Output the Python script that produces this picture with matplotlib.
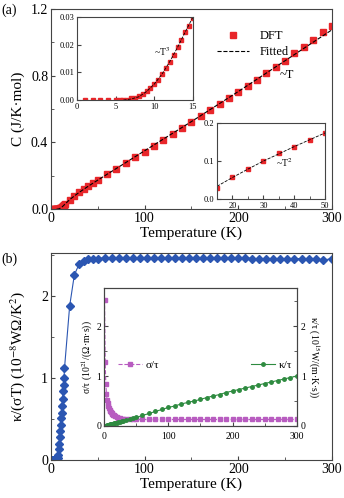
import numpy as np
import matplotlib
matplotlib.use("Agg")
import matplotlib.pyplot as plt
from matplotlib.ticker import MultipleLocator

plt.rcParams['font.family'] = ['Liberation Serif', 'DejaVu Serif']
plt.rcParams['mathtext.fontset'] = 'stix'
plt.rcParams['axes.linewidth'] = 0.8
plt.rcParams['axes.edgecolor'] = '#444444'

# ---- panel (a): heat capacity ----
T_dft = [1, 2, 3, 4, 5, 5.5, 6, 6.5, 7, 7.5, 8, 8.5, 9, 9.5, 10, 10.5, 11, 11.5, 12,
         12.5, 13, 13.5, 14, 14.5, 15, 20, 25, 30, 35, 40, 45, 50,
         60, 70, 80, 90, 100, 110, 120, 130, 140, 150, 160, 170, 180, 190, 200,
         210, 220, 230, 240, 250, 260, 270, 280, 290, 300]
C_dft = [0, 0, 0, 0, 0, 0, 0.0001, 0.0002, 0.0006, 0.0009, 0.0014, 0.0021, 0.0033,
         0.0045, 0.0058, 0.0073, 0.0093, 0.0117, 0.0139, 0.0161, 0.019, 0.0218,
         0.0246, 0.0269, 0.0295, 0.057, 0.080, 0.100, 0.120, 0.136, 0.155, 0.174,
         0.208, 0.242, 0.276, 0.310, 0.345, 0.380, 0.415, 0.450, 0.487, 0.522,
         0.558, 0.594, 0.628, 0.664, 0.700, 0.740, 0.774, 0.814, 0.854, 0.890,
         0.934, 0.970, 1.014, 1.060, 1.100]

fit_T_low = [6, 7, 8, 9, 10, 11, 12, 13, 14, 15]
fit_C_low = [0, 0.0004, 0.0012, 0.0031, 0.0058, 0.0094, 0.0139, 0.0190, 0.0246, 0.0300]
fit_T_mid = [15, 20, 25, 30, 35, 40, 45, 50]
fit_C_mid = [0.034, 0.057, 0.079, 0.100, 0.119, 0.138, 0.156, 0.174]
fit_T_high = [50, 100, 150, 200, 250, 300]
fit_C_high = [0.174, 0.350, 0.525, 0.705, 0.890, 1.075]

# ---- panel (b): Lorenz number and inset ----
T_L = [1, 2, 3, 4, 5, 5.5, 6, 6.5, 7, 7.5, 8, 8.5, 9, 9.5, 10, 10.5, 11, 11.5, 12,
       12.5, 13, 13.5, 14, 14.5, 20, 25, 30, 35, 40, 45, 50,
       57.5, 65, 72.5, 80, 87.5, 95, 102.5, 110, 117.5, 125, 132.5, 140, 147.5,
       155, 162.5, 170, 177.5, 185, 192.5, 200, 207.5, 215, 222.5, 230, 237.5,
       245, 252.5, 260, 267.5, 275, 282.5, 290, 300]
L_val = [0, 0, 0, 0, 0, 0, 0, 0, 0.01, 0.03, 0.06, 0.13, 0.20, 0.28, 0.35, 0.43,
         0.51, 0.58, 0.66, 0.75, 0.84, 0.92, 1.00, 1.12, 1.88, 2.26, 2.39, 2.43,
         2.45, 2.46, 2.46, 2.47, 2.47, 2.47, 2.47, 2.47, 2.47, 2.47, 2.47, 2.47,
         2.47, 2.47, 2.47, 2.47, 2.47, 2.47, 2.47, 2.47, 2.47, 2.47, 2.47, 2.47,
         2.46, 2.46, 2.46, 2.46, 2.46, 2.46, 2.46, 2.46, 2.46, 2.46, 2.44, 2.46]

T_in = [1, 2, 3, 4, 5, 6, 7, 8, 9, 10, 11, 12, 13, 14, 15, 17.5, 20, 22.5, 25,
        27.5, 30, 35, 40, 45, 50, 60, 70, 80, 90, 100, 110, 120, 130, 140, 150,
        160, 170, 180, 190, 200, 210, 220, 230, 240, 250, 260, 270, 280, 290, 300]
sigma_tau = [2.53, 1.29, 0.84, 0.65, 0.51, 0.45, 0.40, 0.36, 0.32, 0.29, 0.27,
             0.25, 0.235, 0.22, 0.21, 0.19, 0.175, 0.16, 0.15, 0.145, 0.14, 0.135,
             0.13, 0.13, 0.13, 0.13, 0.13, 0.13, 0.13, 0.13, 0.13, 0.13, 0.13, 0.13,
             0.13, 0.13, 0.13, 0.13, 0.13, 0.13, 0.13, 0.13, 0.13, 0.13, 0.13, 0.13,
             0.13, 0.13, 0.13, 0.13]
kappa_tau = [0, 0, 0, 0.005, 0.01, 0.014, 0.018, 0.022, 0.026, 0.03, 0.034, 0.038,
             0.042, 0.046, 0.05, 0.058, 0.066, 0.074, 0.082, 0.09, 0.10, 0.115,
             0.13, 0.15, 0.17, 0.21, 0.25, 0.29, 0.33, 0.37, 0.40, 0.44, 0.47, 0.50,
             0.53, 0.57, 0.60, 0.63, 0.67, 0.70, 0.73, 0.76, 0.79, 0.82, 0.85, 0.88,
             0.91, 0.94, 0.97, 1.00]

red = '#e8262a'
blue = '#2b56b2'
purple = '#b85cc0'
green = '#2e8b40'

fig = plt.figure(figsize=(3.44, 4.98), dpi=100)


def style(ax, size):
    ax.tick_params(which='both', direction='in', labelsize=size, pad=2,
                   top=False, right=False, color='#444444')
    ax.tick_params(which='major', length=3)
    ax.tick_params(which='minor', length=2)


# panel (a)
ax1 = fig.add_axes([0.148, 0.580, 0.817, 0.402])
fit_T = fit_T_low + fit_T_mid[1:] + fit_T_high[1:]
fit_C = fit_C_low + fit_C_mid[1:] + fit_C_high[1:]
ax1.plot(T_dft, C_dft, 's', color=red, ms=4.5, label='DFT', zorder=2)
ax1.plot(fit_T, fit_C, '--', color='black', lw=0.8, label='Fitted', zorder=3)
ax1.set_xlim(0, 300)
ax1.set_ylim(0, 1.2)
ax1.xaxis.set_major_locator(MultipleLocator(100))
ax1.xaxis.set_minor_locator(MultipleLocator(50))
ax1.yaxis.set_major_locator(MultipleLocator(0.4))
ax1.yaxis.set_minor_locator(MultipleLocator(0.2))
ax1.yaxis.set_major_formatter(plt.FormatStrFormatter('%.1f'))
style(ax1, 10)
ax1.set_xlabel('Temperature (K)', fontsize=11, labelpad=1)
ax1.set_ylabel('C (J/K·mol)', fontsize=11, labelpad=4)
ax1.legend(loc='upper left', bbox_to_anchor=(0.55, 0.95), frameon=False,
           fontsize=9, handlelength=2.6, handletextpad=0.8, labelspacing=0.3)
ax1.text(0.815, 0.655, '~T', transform=ax1.transAxes, fontsize=9)
fig.text(0.005, 0.972, '(a)', fontsize=10)

# inset T^3
ins1 = fig.add_axes([0.224, 0.799, 0.337, 0.167])
ins1.plot(T_dft[:25], C_dft[:25], 's', color=red, ms=2.5)
ins1.plot(fit_T_low, fit_C_low, '--', color='black', lw=0.6)
ins1.set_xlim(0, 15)
ins1.set_ylim(0, 0.03)
ins1.xaxis.set_major_locator(MultipleLocator(5))
ins1.yaxis.set_major_locator(MultipleLocator(0.01))
ins1.yaxis.set_major_formatter(plt.FormatStrFormatter('%.2f'))
style(ins1, 6)
ins1.text(10.0, 0.016, '~T$^3$', fontsize=7)

# inset T^2
ins2 = fig.add_axes([0.631, 0.600, 0.314, 0.153])
ins2.plot(T_dft[24:32], C_dft[24:32], 's', color=red, ms=2.5)
ins2.plot(fit_T_mid, fit_C_mid, '--', color='black', lw=0.6)
ins2.set_xlim(15, 50)
ins2.set_ylim(0, 0.2)
ins2.xaxis.set_major_locator(MultipleLocator(10))
ins2.xaxis.set_minor_locator(MultipleLocator(5))
ins2.yaxis.set_major_locator(MultipleLocator(0.1))
ins2.yaxis.set_major_formatter(plt.FormatStrFormatter('%.1f'))
style(ins2, 6)
ins2.text(34, 0.085, '~T$^2$', fontsize=7)

# panel (b)
ax2 = fig.add_axes([0.148, 0.0763, 0.817, 0.416])
ax2.plot(T_L, L_val, '-D', color=blue, ms=3.8, lw=0.8)
ax2.set_xlim(0, 300)
ax2.set_ylim(0, 2.53)
ax2.xaxis.set_major_locator(MultipleLocator(100))
ax2.xaxis.set_minor_locator(MultipleLocator(50))
ax2.yaxis.set_major_locator(MultipleLocator(1))
ax2.yaxis.set_minor_locator(MultipleLocator(0.5))
style(ax2, 10)
ax2.set_xlabel('Temperature (K)', fontsize=11, labelpad=1)
ax2.set_ylabel('κ/(σT) (10$^{-8}$WΩ/K$^2$)', fontsize=11, labelpad=10)
fig.text(0.005, 0.472, '(b)', fontsize=10)

# inset sigma/tau and kappa/tau
ins3 = fig.add_axes([0.302, 0.1446, 0.561, 0.277])
ins3.plot(T_in, sigma_tau, '--s', color=purple, ms=2.5, lw=0.8, label='σ/τ')
ins3.set_xlim(0, 300)
ins3.set_ylim(0, 2.76)
ins3.xaxis.set_major_locator(MultipleLocator(100))
ins3.xaxis.set_minor_locator(MultipleLocator(50))
ins3.yaxis.set_major_locator(MultipleLocator(1))
ins3.yaxis.set_minor_locator(MultipleLocator(0.5))
style(ins3, 7)
ins3.tick_params(axis='x', pad=4)
ins3.set_ylabel('σ/τ (10$^{21}$/(Ω·m·s))', fontsize=7, labelpad=1)
ins3.legend(loc='center left', bbox_to_anchor=(0.02, 0.44), frameon=False,
            fontsize=8, handlelength=2.2, handletextpad=0.3)

ins3r = ins3.twinx()
ins3r.plot(T_in, kappa_tau, '-o', color=green, ms=2.5, lw=0.8, label='κ/τ')
ins3r.set_ylim(0, 2.76)
ins3r.yaxis.set_major_locator(MultipleLocator(1))
ins3r.yaxis.set_minor_locator(MultipleLocator(0.5))
ins3r.tick_params(which='both', direction='in', labelsize=7, pad=3, color='#444444')
ins3r.tick_params(which='major', length=3)
ins3r.tick_params(which='minor', length=2)
ins3r.set_ylabel('κ/τ (10$^{15}$W/(m·K·s))', fontsize=7, rotation=270, labelpad=11)
ins3r.legend(loc='center left', bbox_to_anchor=(0.71, 0.44), frameon=False,
             fontsize=8, handlelength=2.2, handletextpad=0.3)

fig.savefig('out.png', dpi=100)
